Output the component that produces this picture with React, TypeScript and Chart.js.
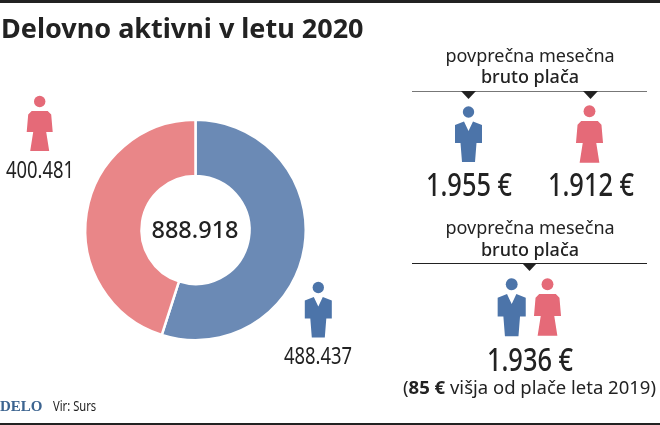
import React, { useEffect, useRef } from "react";
import { Chart, registerables } from "chart.js";

Chart.register(...registerables);

const categories = ["Moški", "Ženske"];
const workers = [488437, 400481];
const sliceColors = ["#6b8ab5", "#e98688"];
const totalLabel = "888.918";
const womenLabel = "400.481";
const menLabel = "488.437";
const title = "Delovno aktivni v letu 2020";
const subtitleA = "povprečna mesečna";
const subtitleB = "bruto plača";
const menPay = "1.955 €";
const womenPay = "1.912 €";
const allPay = "1.936 €";

const BLUE = "#4c74a9";
const RED = "#e56a78";
const INK = "#222222";
const SANS = "'Noto Sans', sans-serif";

function Man({ x, y, s = 1 }: { x: number; y: number; s?: number }) {
  return (
    <g transform={`translate(${x} ${y}) scale(${s})`} fill={BLUE}>
      <circle cx="0" cy="6" r="5.7" />
      <path d="M-13.5 19 L-4.5 15.5 L0 25 L4.5 15.5 L13.5 19 L13.5 37 L8 37 L6.5 56 L-6.5 56 L-8 37 L-13.5 37 Z" />
    </g>
  );
}

function Woman({ x, y, s = 1 }: { x: number; y: number; s?: number }) {
  return (
    <g transform={`translate(${x} ${y}) scale(${s})`} fill={RED}>
      <circle cx="0" cy="6" r="5.7" />
      <path d="M-8 15.5 L8 15.5 L11.5 19 L13 36.5 L6.5 36.5 L9.5 55.5 L-9.5 55.5 L-6.5 36.5 L-13 36.5 L-11.5 19 Z" />
    </g>
  );
}

function T({ x, y, size, text, font = SANS, weight = 400, anchor = "c", sx = 1 }: any) {
  const tx = anchor === "c" ? "-50%" : "0";
  return (
    <span
      style={{
        position: "absolute",
        left: x,
        top: y,
        fontFamily: font,
        fontSize: size,
        fontWeight: weight,
        color: INK,
        lineHeight: 1,
        whiteSpace: "nowrap",
        transform: `translateX(${tx}) scaleX(${sx})`,
        transformOrigin: anchor === "c" ? "center" : "left",
      }}
    >
      {text}
    </span>
  );
}

export default function App() {
  const ref = useRef<HTMLCanvasElement>(null);
  useEffect(() => {
    document.body.style.margin = "0";
    const chart = new Chart(ref.current!, {
      type: "doughnut",
      data: {
        labels: categories,
        datasets: [
          {
            data: workers,
            backgroundColor: sliceColors,
            borderColor: "#ffffff",
            borderWidth: 2.5,
          },
        ],
      },
      options: {
        responsive: false,
        animation: false,
        cutout: "49%",
        layout: { padding: { left: 84, right: 353, top: 118.5, bottom: 83.5 } },
        plugins: { legend: { display: false }, tooltip: { enabled: false } },
      },
    });
    return () => chart.destroy();
  }, []);

  return (
    <div style={{ position: "relative", width: 660, height: 425, background: "#fff", overflow: "hidden" }}>
      <canvas ref={ref} width={660} height={425} style={{ position: "absolute", left: 0, top: 0 }} />
      <svg width={660} height={425} style={{ position: "absolute", left: 0, top: 0 }}>
        <rect x="0" y="0" width="660" height="3" fill="#222" />
        <rect x="0" y="423" width="660" height="2" fill="#222" />
        <rect x="412" y="91" width="235" height="1" fill="#777" />
        <rect x="412" y="263" width="235" height="1" fill="#222" />
        <path d="M461 91 L476 91 L468.5 99 Z" fill="#222" />
        <path d="M583 91 L598 91 L590.5 99 Z" fill="#222" />
        <path d="M522 263 L537 263 L529.5 271 Z" fill="#222" />
        <Woman x={39.7} y={95.5} />
        <Man x={318.3} y={281.5} />
        <Man x={468.5} y={106} />
        <Woman x={589.5} y={105} s={1.04} />
        <Man x={511.7} y={278} s={1.04} />
        <Woman x={547.5} y={278} s={1.04} />
      </svg>
      <T x={1} y={14} size={27} weight={700} anchor="l" text={title} />
      <T x={39.5} y={157.5} size={23} weight={400} sx={0.8} text={womenLabel} />
      <T x={318} y={344} size={23} weight={400} sx={0.8} text={menLabel} />
      <T x={195} y={218} size={23.5} weight={500} text={totalLabel} />
      <T x={530} y={46} size={18} text={subtitleA} />
      <T x={530} y={67} size={18} weight={500} text={subtitleB} />
      <T x={468.5} y={167} size={33} weight={500} sx={0.77} text={menPay} />
      <T x={591} y={167} size={33} weight={500} sx={0.77} text={womenPay} />
      <T x={530} y={218} size={18} text={subtitleA} />
      <T x={530} y={240} size={18} weight={500} text={subtitleB} />
      <T x={529.5} y={342} size={33} weight={500} sx={0.77} text={allPay} />
      <span
        style={{
          position: "absolute",
          left: 529.5,
          top: 378,
          transform: "translateX(-50%)",
          fontFamily: SANS,
          fontSize: 18.5,
          lineHeight: 1,
          color: INK,
          whiteSpace: "nowrap",
        }}
      >
        (<b>85 €</b> višja od plače leta 2019)
      </span>
      <span
        style={{
          position: "absolute",
          left: 0,
          top: 399,
          fontFamily: "'Liberation Serif', serif",
          fontWeight: 700,
          fontSize: 15,
          lineHeight: 1,
          color: "#3c6490",
        }}
      >
        DELO
      </span>
      <T x={53} y={399} size={14} sx={0.8} anchor="l" text="Vir: Surs" />
    </div>
  );
}
